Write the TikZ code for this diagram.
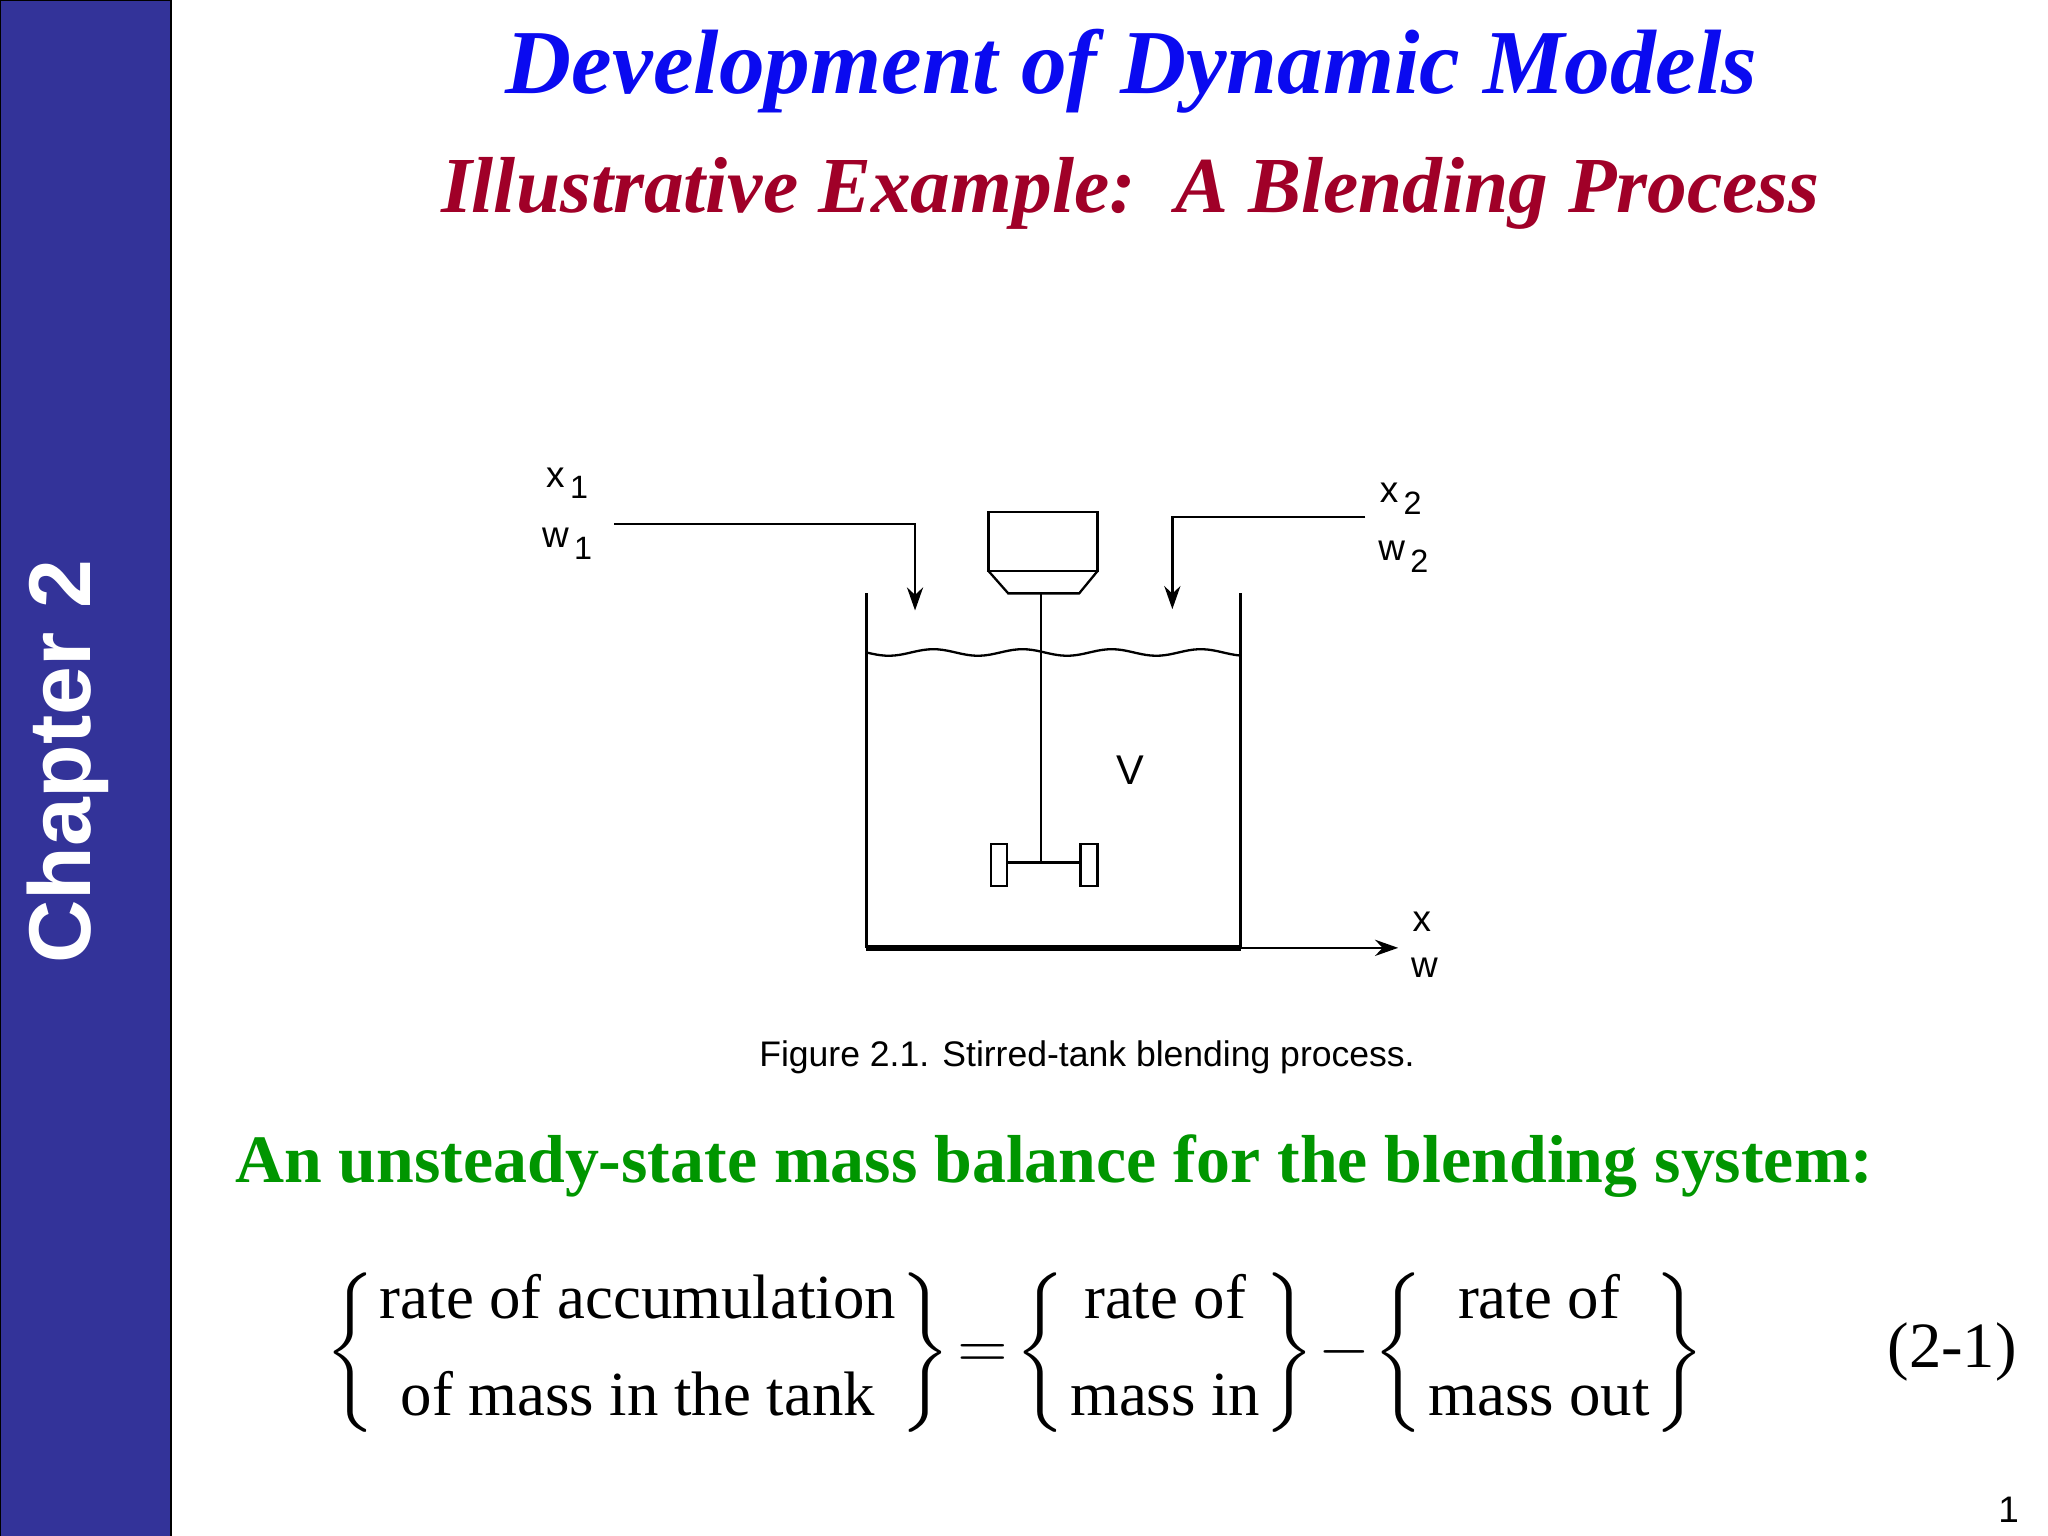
\documentclass[tikz,border=0pt]{standalone}
\usepackage{fontspec}
\setmainfont{Liberation Serif}
\setsansfont{Liberation Sans}
\usepackage{amsmath}
\usetikzlibrary{arrows.meta}
\definecolor{side}{RGB}{51,51,153}
\definecolor{tblue}{RGB}{10,10,240}
\definecolor{tred}{RGB}{160,0,40}
\definecolor{tgreen}{RGB}{0,150,0}
\newcommand{\sbs}[1]{\raisebox{-2.5pt}{\fontsize{7}{8}\selectfont\,#1}}
\tikzset{lbl/.style={font=\sffamily\fontsize{8}{9}\selectfont,inner sep=0pt},
 pipe/.style={line width=0.5pt},
 arr/.style={pipe,-{Stealth[length=5pt,width=3.5pt]}}}
\begin{document}
\begin{tikzpicture}[x=0.01cm,y=-0.01cm]
\useasboundingbox (0,0) rectangle (1560,1170);
\fill[white] (0,0) rectangle (1560,1170);
\draw[fill=side,draw=black] (0,0) rectangle (130,1176);
\node (chap) [rotate=90,text=white,font=\sffamily\bfseries\fontsize{19}{22}\selectfont] at (52,580) {Chapter 2};
\node (t1) [text=tblue,font=\bfseries\itshape\fontsize{19.8}{24}\selectfont] at (862,54) {Development of Dynamic Models};
\node (t2) [text=tred,font=\bfseries\itshape\fontsize{17.2}{20}\selectfont] at (861,147) {Illustrative Example:\ \ A Blending Process};
% tank
\coordinate (tl) at (660,452); \coordinate (bl) at (660,722);
\coordinate (br) at (945,722); \coordinate (tr) at (945,452);
\draw[pipe] (tl) -- (bl);
\draw[line width=1.3pt] (bl) -- (br);
\draw[pipe] (br) -- (tr);
\coordinate (outend) at (1065,722);
\draw[arr] (br) -- (outend);
\node (x) [lbl] at (1083,702) {x};
\node (w) [lbl] at (1085,737) {w};
\draw[pipe] plot[domain=660:945,samples=80] (\x,{497+2.5*sin((\x-660)*5.3)});
% inlet 1
\coordinate (i1a) at (468,399); \coordinate (i1b) at (697,399); \coordinate (i1c) at (697,465);
\draw[arr] (i1a) -- (i1b) -- (i1c);
\node (x1) [lbl] at (432,368) {x\sbs{1}};
\node (w1) [lbl] at (432,414) {w\sbs{1}};
% inlet 2
\coordinate (i2a) at (1040,394); \coordinate (i2b) at (893,394); \coordinate (i2c) at (893,464);
\draw[arr] (i2a) -- (i2b) -- (i2c);
\node (x2) [lbl] at (1067,380) {x\sbs{2}};
\node (w2) [lbl] at (1069,424) {w\sbs{2}};
% motor and stirrer
\draw[pipe] (753,390) rectangle (836,435);
\draw[pipe] (753,435) -- (768,452) -- (822,452) -- (836,435);
\draw[pipe] (793,452) -- (793,657);
\draw[pipe] (767,657) -- (823,657);
\draw[pipe] (755,643) rectangle (767,675);
\draw[pipe] (823,643) rectangle (836,675);
\node (V) [lbl,font=\sffamily\fontsize{9}{10}\selectfont] at (861,587) {V};
\node (cap) [font=\sffamily\fontsize{7.7}{9}\selectfont] at (828,805) {Figure 2.1. Stirred-tank blending process.};
\node (green) [text=tgreen,font=\bfseries\fontsize{14.7}{18}\selectfont] at (803,888) {An unsteady-state mass balance for the blending system:};
\node (eq) [font=\fontsize{13.6}{16}\selectfont,inner sep=0pt] at (773,1030) {\arraycolsep=1pt\nulldelimiterspace=0pt$\left\{\begin{array}{c}\text{rate of accumulation}\\[5pt]\text{of mass in the tank}\end{array}\right\}\!
=\!\left\{\begin{array}{c}\text{rate of}\\[5pt]\text{mass in}\end{array}\right\}\!
-\!\left\{\begin{array}{c}\text{rate of}\\[5pt]\text{mass out}\end{array}\right\}$};
\node (num) [font=\fontsize{14}{17}\selectfont] at (1487,1030) {(2-1)};
\node (pg) [font=\sffamily\fontsize{8}{9}\selectfont] at (1530,1150) {1};
\end{tikzpicture}
\end{document}
